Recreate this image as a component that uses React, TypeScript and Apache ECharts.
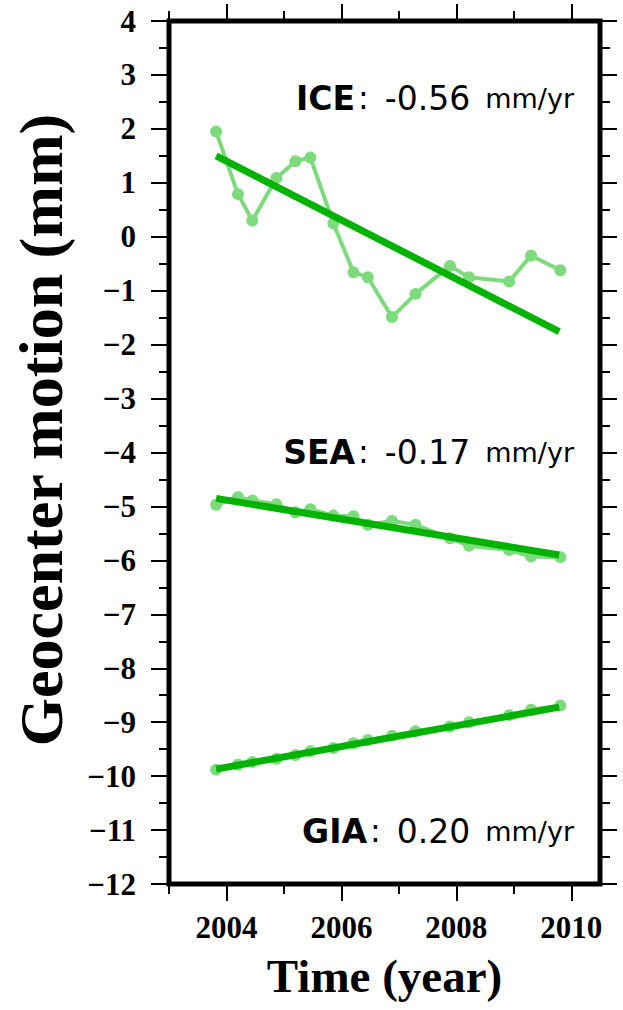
import React, { useEffect, useRef } from "react";
import * as echarts from "echarts";

// sample epochs (decimal year)
const years = [2003.82, 2004.2, 2004.45, 2004.87, 2005.2, 2005.46, 2005.86, 2006.21, 2006.46, 2006.88, 2007.29, 2007.89, 2008.22, 2008.92, 2009.3, 2009.81];
// geocenter motion (mm)
const iceValues = [1.95, 0.79, 0.3, 1.09, 1.4, 1.47, 0.25, -0.66, -0.75, -1.49, -1.06, -0.54, -0.75, -0.83, -0.35, -0.62];
const seaValues = [-4.97, -4.83, -4.89, -4.96, -5.11, -5.05, -5.17, -5.18, -5.34, -5.27, -5.34, -5.59, -5.73, -5.81, -5.93, -5.94];
const giaValues = [-9.88, -9.79, -9.74, -9.68, -9.61, -9.54, -9.48, -9.39, -9.33, -9.25, -9.17, -9.08, -9.0, -8.87, -8.77, -8.69];
// linear trends (end points)
const trendYears = [2003.82, 2009.79];
const iceTrend = [1.5, -1.76];
const seaTrend = [-4.85, -5.9];
const giaTrend = [-9.87, -8.72];
// annotations
const labelNames = ["ICE", "SEA", "GIA"];
const labelRates = ["-0.56", "-0.17", "0.20"];
const rateUnit = "mm/yr";
// ticks
const majorYears = [2004, 2006, 2008, 2010];
const minorYears = [2003, 2005, 2007, 2009];
const yTitle = "Geocenter motion (mm)";
const xTitle = "Time (year)";

const LIGHT = "#7dda7d";
const DARK = "#00b300";
const SERIF = "'Liberation Serif', 'DejaVu Serif', serif";
const ANN = "'DejaVu Sans', 'Noto Sans', sans-serif";

const pairs = (xs: number[], ys: number[]) => xs.map((x, i) => [x, ys[i]]);

export default function App() {
  const ref = useRef<HTMLDivElement>(null);
  useEffect(() => {
    if (!ref.current) return;
    const chart = echarts.init(ref.current, undefined, { renderer: "svg" });
    const tickLine = { color: "#000", width: 2 };
    const xBase = { type: "value", min: 2003, max: 2010.5, gridIndex: 0, splitLine: { show: false }, axisLine: { show: false, onZero: false } };
    const annY = [98, 452, 831];
    chart.setOption({
      animation: false,
      backgroundColor: "#fff",
      grid: { left: 169, right: 23, top: 21, bottom: 126, show: true, borderWidth: 5, borderColor: "#000", backgroundColor: "transparent" },
      xAxis: [
        {
          ...xBase, position: "bottom",
          axisTick: { show: true, customValues: majorYears, length: 17, lineStyle: tickLine },
          axisLabel: { show: true, customValues: majorYears, formatter: (v: number) => String(v), fontFamily: SERIF, fontWeight: "bold", fontSize: 31, color: "#000", margin: 28 },
          name: xTitle, nameLocation: "middle", nameGap: 68,
          nameTextStyle: { fontFamily: SERIF, fontWeight: "bold", fontSize: 47, color: "#000" },
        },
        { ...xBase, position: "bottom", axisTick: { show: true, customValues: minorYears, length: 10, lineStyle: tickLine }, axisLabel: { show: false } },
        { ...xBase, position: "top", axisTick: { show: true, customValues: majorYears, length: 17, lineStyle: tickLine }, axisLabel: { show: false } },
        { ...xBase, position: "top", axisTick: { show: true, customValues: minorYears, length: 10, lineStyle: tickLine }, axisLabel: { show: false } },
      ],
      yAxis: [
        {
          type: "value", position: "left", min: -12, max: 4, interval: 1,
          splitLine: { show: false }, axisLine: { show: false, onZero: false },
          axisTick: { show: true, length: 18, lineStyle: tickLine },
          minorTick: { show: true, splitNumber: 2, length: 10, lineStyle: tickLine },
          axisLabel: { formatter: (v: number) => (v < 0 ? "\u2212" + Math.abs(v) : String(v)), fontFamily: SERIF, fontWeight: "bold", fontSize: 31, color: "#000", margin: 33 },
        },
        {
          type: "value", position: "right", min: -12, max: 4, interval: 1,
          splitLine: { show: false }, axisLine: { show: false, onZero: false },
          axisTick: { show: true, length: 17, lineStyle: tickLine },
          minorTick: { show: true, splitNumber: 2, length: 10, lineStyle: tickLine },
          axisLabel: { show: false },
        },
      ],
      series: [
        ...[iceValues, seaValues, giaValues].map((vals) => ({
          type: "line", data: pairs(years, vals), symbol: "circle", symbolSize: 12,
          lineStyle: { color: LIGHT, width: 4 }, itemStyle: { color: LIGHT }, z: 2,
        })),
        ...[iceTrend, seaTrend, giaTrend].map((vals) => ({
          type: "line", data: pairs(trendYears, vals), symbol: "none",
          lineStyle: { color: DARK, width: 7 }, z: 3,
        })),
      ],
      graphic: [
        {
          type: "text", x: 41, y: 430, rotation: Math.PI / 2, z: 10,
          style: {
            text: yTitle, fill: "#000", font: `bold 62px ${SERIF}`,
            textAlign: "center", align: "center", textVerticalAlign: "middle", verticalAlign: "middle",
          },
        },
        ...labelNames.map((n, i) => ({
          type: "text", x: 574, y: annY[i], z: 10,
          style: {
            text: `{b|${n}}{c|:}{n|${labelRates[i]}}{u|${rateUnit}}`,
            textAlign: "right", align: "right", textVerticalAlign: "middle", verticalAlign: "middle",
            rich: {
              b: { fontFamily: ANN, fontWeight: "bold", fontSize: 33, fill: "#000", color: "#000" },
              c: { fontFamily: ANN, fontSize: 32, fill: "#000", color: "#000", padding: [0, 16, 0, 3] },
              n: { fontFamily: ANN, fontSize: 33, fill: "#000", color: "#000", padding: [0, 15, 0, 0] },
              u: { fontFamily: ANN, fontSize: 27, fill: "#000", color: "#000" },
            },
          },
        })),
      ],
    });
    return () => chart.dispose();
  }, []);
  return <div ref={ref} style={{ position: "fixed", left: 0, top: 0, width: 623, height: 1010 }} />;
}
